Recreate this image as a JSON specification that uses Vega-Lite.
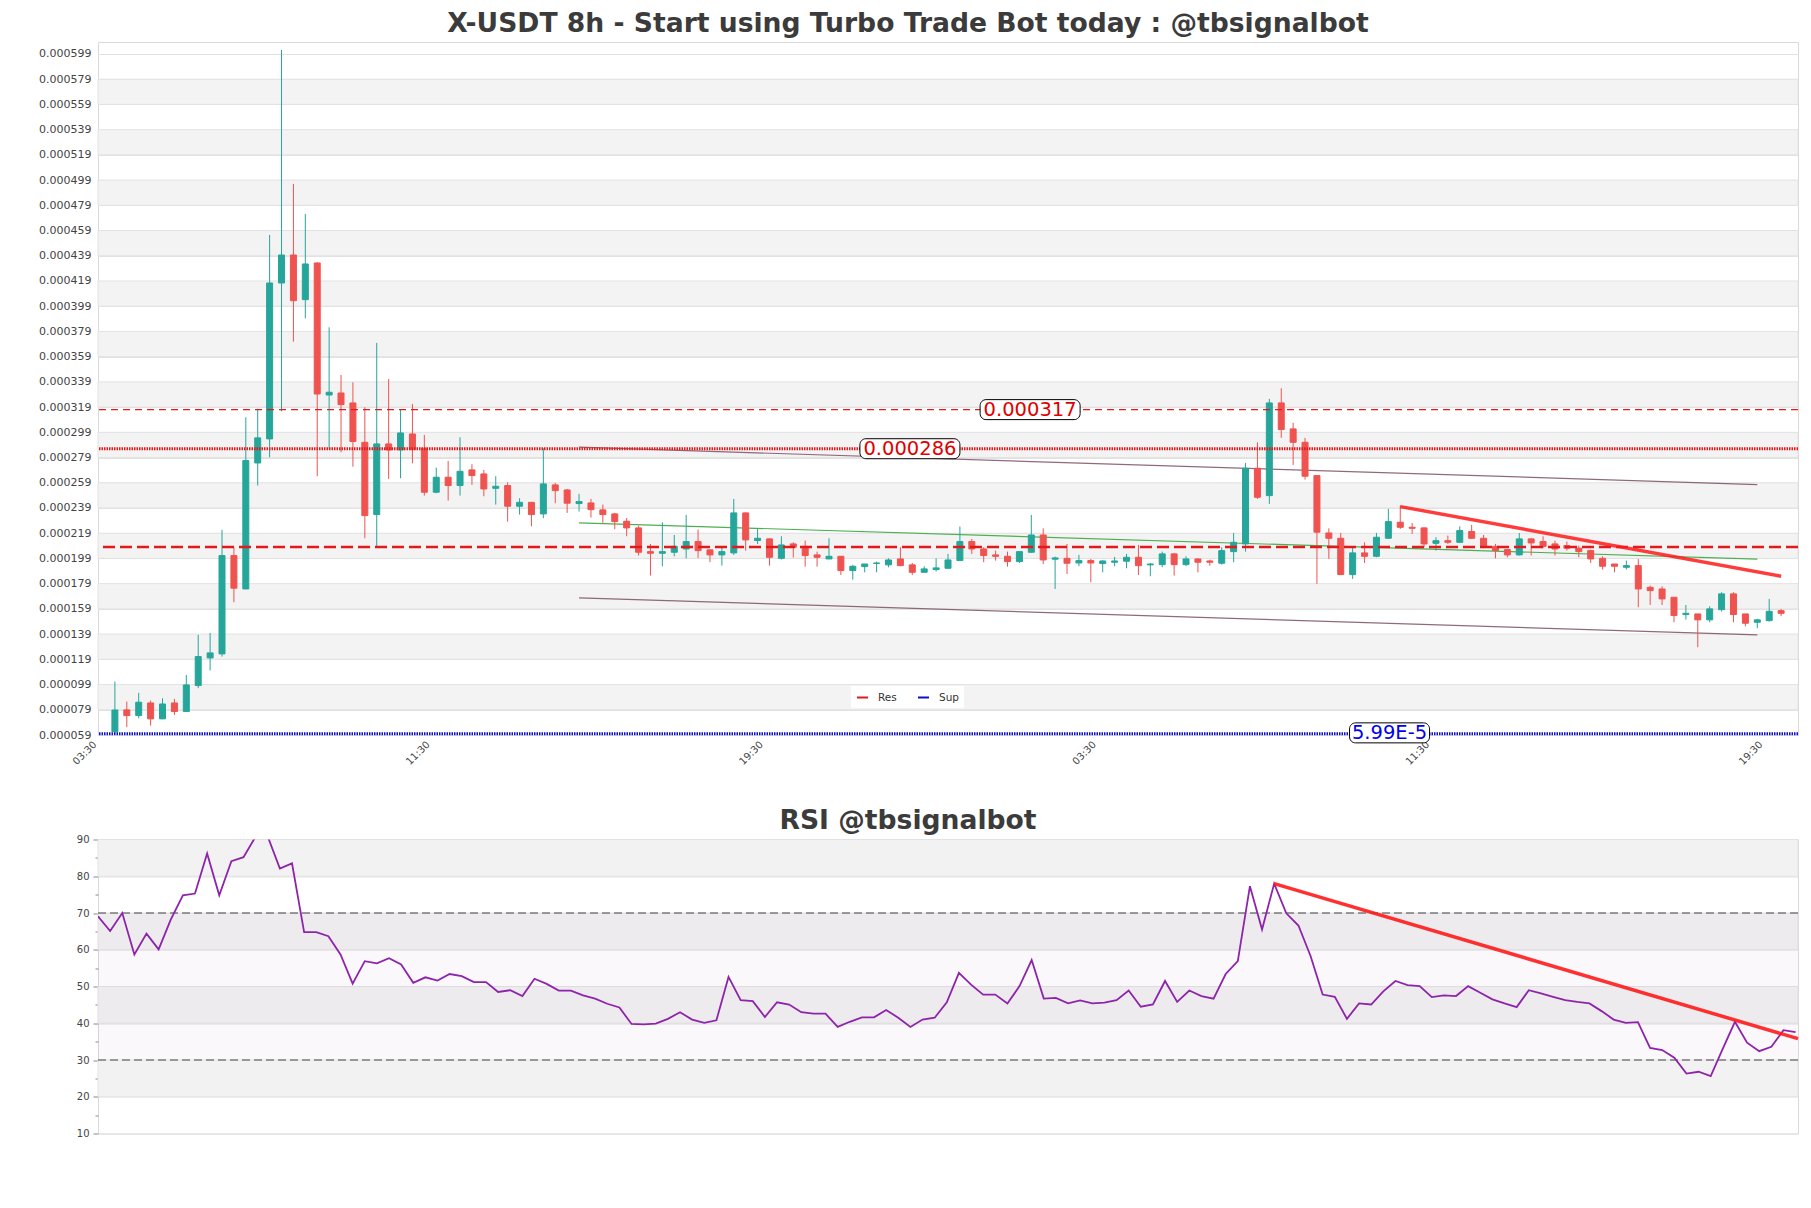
{
  "$schema": "https://vega.github.io/schema/vega-lite/v6.json",
  "background": "white",
  "padding": {"left": 7, "top": 10, "right": 14, "bottom": 10},
  "autosize": {"type": "pad"},
  "spacing": 30.5,
  "config": {
    "font": "DejaVu Sans",
    "view": {"stroke": "#d9d9d9", "strokeWidth": 1},
    "title": {"fontSize": 26.6, "fontWeight": "bold", "color": "#3b3b3b", "font": "DejaVu Sans"},
    "axis": {"labelFont": "DejaVu Sans", "labelColor": "#444444", "labelOverlap": false},
    "legend": {"labelFont": "DejaVu Sans"}
  },
  "resolve": {"scale": {"x": "independent", "y": "independent"}},
  "datasets": {
    "candles": [
      {"i":0,"o":61.6e-6,"h":101.3e-6,"l":59.9e-6,"c":78.8e-6,"rsi":69.1},
      {"i":1,"o":78.9e-6,"h":85.5e-6,"l":65.2e-6,"c":74.4e-6,"rsi":65.1},
      {"i":2,"o":74.4e-6,"h":92.4e-6,"l":72.3e-6,"c":85.0e-6,"rsi":70.0},
      {"i":3,"o":84.4e-6,"h":86.3e-6,"l":66.5e-6,"c":71.8e-6,"rsi":58.7},
      {"i":4,"o":71.8e-6,"h":88.1e-6,"l":71.8e-6,"c":83.6e-6,"rsi":64.4},
      {"i":5,"o":84.4e-6,"h":87.6e-6,"l":74.9e-6,"c":77.6e-6,"rsi":60.1},
      {"i":6,"o":77.6e-6,"h":106.6e-6,"l":77.6e-6,"c":98.7e-6,"rsi":68.2},
      {"i":7,"o":98.2e-6,"h":138.4e-6,"l":96.1e-6,"c":121.2e-6,"rsi":74.8},
      {"i":8,"o":120.1e-6,"h":139.9e-6,"l":110.1e-6,"c":124.1e-6,"rsi":75.3},
      {"i":9,"o":123.3e-6,"h":221.6e-6,"l":121.2e-6,"c":201.3e-6,"rsi":86.2},
      {"i":10,"o":201.3e-6,"h":207.9e-6,"l":164.3e-6,"c":175.4e-6,"rsi":74.8},
      {"i":11,"o":174.8e-6,"h":310.9e-6,"l":174.8e-6,"c":276.6e-6,"rsi":84.1},
      {"i":12,"o":274.7e-6,"h":317.6e-6,"l":256.8e-6,"c":294.6e-6,"rsi":85.2},
      {"i":13,"o":293.8e-6,"h":455.5e-6,"l":279.2e-6,"c":417.4e-6,"rsi":90.8},
      {"i":14,"o":417.4e-6,"h":602.2e-6,"l":315.7e-6,"c":439.6e-6,"rsi":90.8},
      {"i":15,"o":439.6e-6,"h":496.0e-6,"l":370.9e-6,"c":403.4e-6,"rsi":82.1},
      {"i":16,"o":404.2e-6,"h":472.2e-6,"l":389.4e-6,"c":432.5e-6,"rsi":83.5},
      {"i":17,"o":433.3e-6,"h":433.8e-6,"l":264.2e-6,"c":329.4e-6,"rsi":64.8},
      {"i":18,"o":328.6e-6,"h":382.3e-6,"l":285.3e-6,"c":330.8e-6,"rsi":64.8},
      {"i":19,"o":330.2e-6,"h":344.5e-6,"l":283.2e-6,"c":321.0e-6,"rsi":63.7},
      {"i":20,"o":322.3e-6,"h":338.7e-6,"l":271.8e-6,"c":291.7e-6,"rsi":58.7},
      {"i":21,"o":291.1e-6,"h":318.9e-6,"l":215.0e-6,"c":233.0e-6,"rsi":50.8},
      {"i":22,"o":233.8e-6,"h":369.9e-6,"l":208.7e-6,"c":289.8e-6,"rsi":56.9},
      {"i":23,"o":289.8e-6,"h":341.3e-6,"l":262.1e-6,"c":285.0e-6,"rsi":56.3},
      {"i":24,"o":285.0e-6,"h":317.0e-6,"l":262.6e-6,"c":298.5e-6,"rsi":57.7},
      {"i":25,"o":297.7e-6,"h":321.5e-6,"l":274.5e-6,"c":285.3e-6,"rsi":56.0},
      {"i":26,"o":286.4e-6,"h":296.9e-6,"l":248.8e-6,"c":251.5e-6,"rsi":51.0},
      {"i":27,"o":251.5e-6,"h":271.0e-6,"l":250.7e-6,"c":263.4e-6,"rsi":52.5},
      {"i":28,"o":263.4e-6,"h":276.3e-6,"l":244.9e-6,"c":256.8e-6,"rsi":51.6},
      {"i":29,"o":256.8e-6,"h":295.1e-6,"l":248.8e-6,"c":268.1e-6,"rsi":53.4},
      {"i":30,"o":269.2e-6,"h":273.7e-6,"l":257.3e-6,"c":264.7e-6,"rsi":52.8},
      {"i":31,"o":266.0e-6,"h":269.2e-6,"l":248.3e-6,"c":254.1e-6,"rsi":51.2},
      {"i":32,"o":254.6e-6,"h":264.2e-6,"l":241.7e-6,"c":256.2e-6,"rsi":51.2},
      {"i":33,"o":256.8e-6,"h":259.4e-6,"l":228.2e-6,"c":240.4e-6,"rsi":48.5},
      {"i":34,"o":240.4e-6,"h":246.7e-6,"l":233.8e-6,"c":243.5e-6,"rsi":49.0},
      {"i":35,"o":243.5e-6,"h":243.8e-6,"l":224.5e-6,"c":233.8e-6,"rsi":47.4},
      {"i":36,"o":234.3e-6,"h":286.4e-6,"l":230.9e-6,"c":258.1e-6,"rsi":52.1},
      {"i":37,"o":257.3e-6,"h":258.9e-6,"l":242.8e-6,"c":252.8e-6,"rsi":50.7},
      {"i":38,"o":253.3e-6,"h":254.1e-6,"l":235.1e-6,"c":242.8e-6,"rsi":48.9},
      {"i":39,"o":242.5e-6,"h":250.2e-6,"l":236.2e-6,"c":244.1e-6,"rsi":48.9},
      {"i":40,"o":243.0e-6,"h":246.2e-6,"l":231.4e-6,"c":237.7e-6,"rsi":47.6},
      {"i":41,"o":237.5e-6,"h":241.7e-6,"l":227.2e-6,"c":233.8e-6,"rsi":46.7},
      {"i":42,"o":234.3e-6,"h":235.1e-6,"l":222.1e-6,"c":228.2e-6,"rsi":45.3},
      {"i":43,"o":228.5e-6,"h":231.1e-6,"l":216.6e-6,"c":223.2e-6,"rsi":44.3},
      {"i":44,"o":223.2e-6,"h":225.0e-6,"l":201.3e-6,"c":203.9e-6,"rsi":39.8},
      {"i":45,"o":204.4e-6,"h":210.5e-6,"l":185.4e-6,"c":203.1e-6,"rsi":39.7},
      {"i":46,"o":203.1e-6,"h":227.7e-6,"l":192.8e-6,"c":204.4e-6,"rsi":39.9},
      {"i":47,"o":203.9e-6,"h":217.6e-6,"l":200.7e-6,"c":208.6e-6,"rsi":41.2},
      {"i":48,"o":206.5e-6,"h":233.5e-6,"l":199.1e-6,"c":212.4e-6,"rsi":43.0},
      {"i":49,"o":212.4e-6,"h":221.9e-6,"l":199.4e-6,"c":205.2e-6,"rsi":41.0},
      {"i":50,"o":205.8e-6,"h":206.0e-6,"l":196.0e-6,"c":201.8e-6,"rsi":40.1},
      {"i":51,"o":201.8e-6,"h":208.6e-6,"l":193.3e-6,"c":204.4e-6,"rsi":40.8},
      {"i":52,"o":203.4e-6,"h":246.2e-6,"l":201.8e-6,"c":235.1e-6,"rsi":52.6},
      {"i":53,"o":235.1e-6,"h":235.5e-6,"l":205.2e-6,"c":213.7e-6,"rsi":46.3},
      {"i":54,"o":213.2e-6,"h":222.4e-6,"l":210.5e-6,"c":215.0e-6,"rsi":46.0},
      {"i":55,"o":214.5e-6,"h":215.0e-6,"l":193.3e-6,"c":199.9e-6,"rsi":41.7},
      {"i":56,"o":199.1e-6,"h":216.6e-6,"l":198.1e-6,"c":209.7e-6,"rsi":45.7},
      {"i":57,"o":210.5e-6,"h":211.8e-6,"l":199.7e-6,"c":207.9e-6,"rsi":45.1},
      {"i":58,"o":208.6e-6,"h":213.2e-6,"l":192.5e-6,"c":201.3e-6,"rsi":43.0},
      {"i":59,"o":201.8e-6,"h":204.4e-6,"l":192.5e-6,"c":199.9e-6,"rsi":42.6},
      {"i":60,"o":198.6e-6,"h":215.0e-6,"l":198.6e-6,"c":200.7e-6,"rsi":42.6},
      {"i":61,"o":200.7e-6,"h":200.7e-6,"l":185.9e-6,"c":189.4e-6,"rsi":39.0},
      {"i":62,"o":189.4e-6,"h":193.9e-6,"l":182.2e-6,"c":192.8e-6,"rsi":40.4},
      {"i":63,"o":192.5e-6,"h":194.6e-6,"l":188.0e-6,"c":194.6e-6,"rsi":41.6},
      {"i":64,"o":195.0e-6,"h":196.5e-6,"l":188.0e-6,"c":195.4e-6,"rsi":41.6},
      {"i":65,"o":193.9e-6,"h":199.1e-6,"l":192.0e-6,"c":197.8e-6,"rsi":43.6},
      {"i":66,"o":198.6e-6,"h":207.9e-6,"l":192.8e-6,"c":193.3e-6,"rsi":41.5},
      {"i":67,"o":193.9e-6,"h":195.4e-6,"l":185.9e-6,"c":188.0e-6,"rsi":39.0},
      {"i":68,"o":188.0e-6,"h":192.8e-6,"l":188.0e-6,"c":190.7e-6,"rsi":41.0},
      {"i":69,"o":190.2e-6,"h":199.1e-6,"l":188.6e-6,"c":191.5e-6,"rsi":41.5},
      {"i":70,"o":191.2e-6,"h":202.6e-6,"l":190.7e-6,"c":197.8e-6,"rsi":45.7},
      {"i":71,"o":197.3e-6,"h":224.3e-6,"l":197.3e-6,"c":212.4e-6,"rsi":53.7},
      {"i":72,"o":212.4e-6,"h":214.5e-6,"l":202.6e-6,"c":206.5e-6,"rsi":50.5},
      {"i":73,"o":206.5e-6,"h":207.9e-6,"l":196.0e-6,"c":201.3e-6,"rsi":47.8},
      {"i":74,"o":201.8e-6,"h":205.2e-6,"l":197.3e-6,"c":200.7e-6,"rsi":47.8},
      {"i":75,"o":200.7e-6,"h":204.4e-6,"l":192.5e-6,"c":196.5e-6,"rsi":45.4},
      {"i":76,"o":196.5e-6,"h":204.4e-6,"l":195.4e-6,"c":204.4e-6,"rsi":50.1},
      {"i":77,"o":203.9e-6,"h":233.5e-6,"l":203.4e-6,"c":217.6e-6,"rsi":57.2},
      {"i":78,"o":217.6e-6,"h":222.9e-6,"l":194.6e-6,"c":197.8e-6,"rsi":46.7},
      {"i":79,"o":198.4e-6,"h":200.5e-6,"l":174.8e-6,"c":199.4e-6,"rsi":46.9},
      {"i":80,"o":199.1e-6,"h":210.5e-6,"l":186.7e-6,"c":195.2e-6,"rsi":45.4},
      {"i":81,"o":195.4e-6,"h":201.8e-6,"l":192.8e-6,"c":197.3e-6,"rsi":46.2},
      {"i":82,"o":197.3e-6,"h":198.6e-6,"l":180.1e-6,"c":195.4e-6,"rsi":45.4},
      {"i":83,"o":194.9e-6,"h":197.5e-6,"l":188.0e-6,"c":197.0e-6,"rsi":45.6},
      {"i":84,"o":196.0e-6,"h":200.2e-6,"l":192.8e-6,"c":197.0e-6,"rsi":46.3},
      {"i":85,"o":196.8e-6,"h":202.6e-6,"l":191.2e-6,"c":199.9e-6,"rsi":48.9},
      {"i":86,"o":199.9e-6,"h":209.7e-6,"l":185.9e-6,"c":193.3e-6,"rsi":44.5},
      {"i":87,"o":193.9e-6,"h":195.4e-6,"l":184.9e-6,"c":194.6e-6,"rsi":45.1},
      {"i":88,"o":194.1e-6,"h":204.4e-6,"l":192.0e-6,"c":202.6e-6,"rsi":51.5},
      {"i":89,"o":202.6e-6,"h":203.4e-6,"l":185.4e-6,"c":194.1e-6,"rsi":45.8},
      {"i":90,"o":194.1e-6,"h":200.7e-6,"l":192.8e-6,"c":198.6e-6,"rsi":48.9},
      {"i":91,"o":198.6e-6,"h":199.1e-6,"l":188.0e-6,"c":196.0e-6,"rsi":47.4},
      {"i":92,"o":197.0e-6,"h":198.1e-6,"l":193.3e-6,"c":196.0e-6,"rsi":46.7},
      {"i":93,"o":195.2e-6,"h":207.9e-6,"l":194.1e-6,"c":205.2e-6,"rsi":53.4},
      {"i":94,"o":204.4e-6,"h":219.2e-6,"l":196.0e-6,"c":211.8e-6,"rsi":56.9},
      {"i":95,"o":210.5e-6,"h":274.7e-6,"l":204.4e-6,"c":270.5e-6,"rsi":77.3},
      {"i":96,"o":270.5e-6,"h":291.1e-6,"l":246.2e-6,"c":247.5e-6,"rsi":65.5},
      {"i":97,"o":248.8e-6,"h":325.5e-6,"l":242.2e-6,"c":322.3e-6,"rsi":78.0},
      {"i":98,"o":322.3e-6,"h":333.9e-6,"l":294.6e-6,"c":301.2e-6,"rsi":69.9},
      {"i":99,"o":301.7e-6,"h":306.5e-6,"l":273.1e-6,"c":291.1e-6,"rsi":66.6},
      {"i":100,"o":291.1e-6,"h":294.6e-6,"l":261.5e-6,"c":264.2e-6,"rsi":58.3},
      {"i":101,"o":264.7e-6,"h":264.7e-6,"l":178.8e-6,"c":219.8e-6,"rsi":47.8},
      {"i":102,"o":219.2e-6,"h":222.9e-6,"l":198.6e-6,"c":215.0e-6,"rsi":47.2},
      {"i":103,"o":215.0e-6,"h":219.2e-6,"l":186.2e-6,"c":186.2e-6,"rsi":41.2},
      {"i":104,"o":186.2e-6,"h":207.9e-6,"l":182.8e-6,"c":203.4e-6,"rsi":45.4},
      {"i":105,"o":203.4e-6,"h":211.8e-6,"l":195.4e-6,"c":200.7e-6,"rsi":45.1},
      {"i":106,"o":200.7e-6,"h":219.2e-6,"l":199.9e-6,"c":215.8e-6,"rsi":48.7},
      {"i":107,"o":215.0e-6,"h":238.3e-6,"l":214.5e-6,"c":228.2e-6,"rsi":51.5},
      {"i":108,"o":227.7e-6,"h":240.9e-6,"l":222.4e-6,"c":223.7e-6,"rsi":50.4},
      {"i":109,"o":223.7e-6,"h":227.2e-6,"l":218.4e-6,"c":222.9e-6,"rsi":50.1},
      {"i":110,"o":223.2e-6,"h":223.7e-6,"l":207.9e-6,"c":210.5e-6,"rsi":47.1},
      {"i":111,"o":211.0e-6,"h":215.8e-6,"l":205.2e-6,"c":213.1e-6,"rsi":47.6},
      {"i":112,"o":213.1e-6,"h":217.1e-6,"l":210.5e-6,"c":211.8e-6,"rsi":47.4},
      {"i":113,"o":211.8e-6,"h":224.5e-6,"l":211.3e-6,"c":221.1e-6,"rsi":50.1},
      {"i":114,"o":220.3e-6,"h":225.6e-6,"l":214.5e-6,"c":215.0e-6,"rsi":48.3},
      {"i":115,"o":215.0e-6,"h":217.6e-6,"l":207.1e-6,"c":208.6e-6,"rsi":46.5},
      {"i":116,"o":208.6e-6,"h":210.5e-6,"l":199.1e-6,"c":205.2e-6,"rsi":45.4},
      {"i":117,"o":206.0e-6,"h":206.5e-6,"l":199.9e-6,"c":201.8e-6,"rsi":44.4},
      {"i":118,"o":201.8e-6,"h":219.2e-6,"l":201.3e-6,"c":214.5e-6,"rsi":49.0},
      {"i":119,"o":214.5e-6,"h":215.0e-6,"l":201.3e-6,"c":211.3e-6,"rsi":48.1},
      {"i":120,"o":212.4e-6,"h":216.6e-6,"l":207.1e-6,"c":208.6e-6,"rsi":47.2},
      {"i":121,"o":210.5e-6,"h":213.1e-6,"l":201.3e-6,"c":206.5e-6,"rsi":46.3},
      {"i":122,"o":209.2e-6,"h":212.4e-6,"l":205.2e-6,"c":207.1e-6,"rsi":45.8},
      {"i":123,"o":207.1e-6,"h":209.2e-6,"l":199.9e-6,"c":204.4e-6,"rsi":45.4},
      {"i":124,"o":205.2e-6,"h":206.0e-6,"l":195.4e-6,"c":198.6e-6,"rsi":43.3},
      {"i":125,"o":199.1e-6,"h":200.7e-6,"l":190.2e-6,"c":192.8e-6,"rsi":41.0},
      {"i":126,"o":194.6e-6,"h":194.6e-6,"l":188.0e-6,"c":192.8e-6,"rsi":40.1},
      {"i":127,"o":192.0e-6,"h":197.3e-6,"l":190.2e-6,"c":193.3e-6,"rsi":40.3},
      {"i":128,"o":193.3e-6,"h":198.6e-6,"l":160.3e-6,"c":174.8e-6,"rsi":33.3},
      {"i":129,"o":176.1e-6,"h":177.5e-6,"l":162.1e-6,"c":173.5e-6,"rsi":32.7},
      {"i":130,"o":174.8e-6,"h":176.9e-6,"l":162.1e-6,"c":166.9e-6,"rsi":30.6},
      {"i":131,"o":168.2e-6,"h":168.2e-6,"l":148.4e-6,"c":153.7e-6,"rsi":26.3},
      {"i":132,"o":154.5e-6,"h":162.1e-6,"l":150.5e-6,"c":155.5e-6,"rsi":26.8},
      {"i":133,"o":155.0e-6,"h":155.0e-6,"l":128.6e-6,"c":150.3e-6,"rsi":25.6},
      {"i":134,"o":150.3e-6,"h":161.1e-6,"l":148.4e-6,"c":159.0e-6,"rsi":33.1},
      {"i":135,"o":158.4e-6,"h":172.2e-6,"l":156.9e-6,"c":170.9e-6,"rsi":40.4},
      {"i":136,"o":170.9e-6,"h":172.2e-6,"l":148.4e-6,"c":154.5e-6,"rsi":34.7},
      {"i":137,"o":155.0e-6,"h":155.0e-6,"l":145.2e-6,"c":147.6e-6,"rsi":32.4},
      {"i":138,"o":148.4e-6,"h":151.1e-6,"l":143.6e-6,"c":150.3e-6,"rsi":33.6},
      {"i":139,"o":149.7e-6,"h":166.9e-6,"l":148.9e-6,"c":157.1e-6,"rsi":38.1},
      {"i":140,"o":157.6e-6,"h":158.9e-6,"l":153.2e-6,"c":155.5e-6,"rsi":37.6}
    ],
    "bands": [
      {"lo":0.000079,"hi":0.000099},{"lo":0.000119,"hi":0.000139},{"lo":0.000159,"hi":0.000179},
      {"lo":0.000199,"hi":0.000219},{"lo":0.000239,"hi":0.000259},{"lo":0.000279,"hi":0.000299},
      {"lo":0.000319,"hi":0.000339},{"lo":0.000359,"hi":0.000379},{"lo":0.000399,"hi":0.000419},
      {"lo":0.000439,"hi":0.000459},{"lo":0.000479,"hi":0.000499},{"lo":0.000519,"hi":0.000539},
      {"lo":0.000559,"hi":0.000579}
    ],
    "levels": [
      {"level":"R1","kind":"Res","price":0.000317,"label":"0.000317"},
      {"level":"R2","kind":"Res","price":0.000286,"label":"0.000286"},
      {"level":"R3","kind":"Res","price":0.000208,"label":""},
      {"level":"S1","kind":"Sup","price":0.0000599,"label":"5.99E-5"}
    ],
    "trends": [
      {"t":"upper","i":39,"p":287.2e-6},{"t":"upper","i":138,"p":257.6e-6},
      {"t":"lower","i":39,"p":167.7e-6},{"t":"lower","i":138,"p":138.4e-6},
      {"t":"mid","i":39,"p":227.2e-6},{"t":"mid","i":138,"p":198.4e-6},
      {"t":"down","i":108,"p":240.1e-6},{"t":"down","i":140,"p":184.9e-6}
    ],
    "rsibands": [{"lo":80,"hi":90},{"lo":60,"hi":70},{"lo":40,"hi":50},{"lo":20,"hi":30}],
    "rsizone": [{"lo":30,"hi":70}],
    "rsilevels": [{"v":70},{"v":30}],
    "rsitrend": [{"i":97,"v":78.0},{"i":140.2,"v":35.8}]
  },
  "vconcat": [
    {
      "width": 1700,
      "height": 693,
      "title": {"text": "X-USDT 8h - Start using Turbo Trade Bot today : @tbsignalbot", "dx": -40, "offset": 4.4},
      "layer": [
        {
          "data": {"name": "bands"},
          "mark": {"type": "rect", "fill": "#f3f3f3", "stroke": "#e2e2e2", "strokeWidth": 1},
          "encoding": {
            "x": {"value": 0},
            "x2": {"value": "width"},
            "y": {"field": "lo", "type": "quantitative",
                  "scale": {"domain": [0.000059, 0.0006085], "nice": false, "zero": false},
                  "axis": {"title": null, "values": [0.000059,0.000079,0.000099,0.000119,0.000139,0.000159,0.000179,0.000199,0.000219,0.000239,0.000259,0.000279,0.000299,0.000319,0.000339,0.000359,0.000379,0.000399,0.000419,0.000439,0.000459,0.000479,0.000499,0.000519,0.000539,0.000559,0.000579,0.000599],
                           "tickCount": 200,
                           "format": ".6f", "labelFontSize": 11, "ticks": false, "labelPadding": 7, "grid": true, "gridColor": "#e2e2e2", "domain": false, "minExtent": 90, "maxExtent": 90, "labelOverlap": false, "labelFlush": false}},
            "y2": {"field": "hi"}
          }
        },
        {
          "data": {"name": "trends"},
          "transform": [{"filter": "datum.t === 'upper' || datum.t === 'lower'"}],
          "mark": {"type": "line", "color": "#7d4f64", "strokeWidth": 1.2, "opacity": 0.85},
          "encoding": {
            "x": {"field": "i", "type": "quantitative", "scale": {"domain": [-1, 141], "nice": false, "zero": false}},
            "y": {"field": "p", "type": "quantitative", "scale": {"domain": [0.000059, 0.0006085], "nice": false, "zero": false}},
            "detail": {"field": "t"}
          }
        },
        {
          "data": {"name": "trends"},
          "transform": [{"filter": "datum.t === 'mid'"}],
          "mark": {"type": "line", "color": "#4caf50", "strokeWidth": 1.2},
          "encoding": {
            "x": {"field": "i", "type": "quantitative", "scale": {"domain": [-1, 141], "nice": false, "zero": false}},
            "y": {"field": "p", "type": "quantitative", "scale": {"domain": [0.000059, 0.0006085], "nice": false, "zero": false}}
          }
        },
        {
          "data": {"name": "candles"},
          "mark": {"type": "rule", "strokeWidth": 1},
          "encoding": {
            "x": {"field": "i", "type": "quantitative", "scale": {"domain": [-1, 141], "nice": false, "zero": false},
                  "axis": {"title": null, "values": [-1, 27, 55, 83, 111, 139], "tickCount": 100,
                           "labelExpr": "['03:30','11:30','19:30'][round((datum.value + 1) / 28) % 3]",
                           "labelAngle": -45, "labelAlign": "right", "labelBaseline": "top", "labelOffset": -12, "labelFontSize": 10, "ticks": false, "grid": false, "domain": false,
                           "labelPadding": 4, "labelFlush": false, "labelOverlap": false, "labelBound": false,
                           "minExtent": 40, "maxExtent": 40}},
            "y": {"field": "l", "type": "quantitative", "scale": {"domain": [0.000059, 0.0006085], "nice": false, "zero": false}},
            "y2": {"field": "h"},
            "color": {"condition": {"test": "datum.c >= datum.o", "value": "#26a69a"}, "value": "#ef5350"}
          }
        },
        {
          "data": {"name": "candles"},
          "mark": {"type": "bar", "size": 6, "strokeWidth": 1},
          "encoding": {
            "x": {"field": "i", "type": "quantitative", "scale": {"domain": [-1, 141], "nice": false, "zero": false}},
            "y": {"field": "o", "type": "quantitative", "scale": {"domain": [0.000059, 0.0006085], "nice": false, "zero": false}},
            "y2": {"field": "c"},
            "color": {"condition": {"test": "datum.c >= datum.o", "value": "#26a69a"}, "value": "#ef5350"},
            "stroke": {"condition": {"test": "datum.c >= datum.o", "value": "#26a69a"}, "value": "#ef5350"}
          }
        },
        {
          "data": {"name": "levels"},
          "transform": [{"filter": "datum.level === 'R1'"}],
          "mark": {"type": "rule", "strokeWidth": 1.3, "strokeDash": [7, 5]},
          "encoding": {
            "y": {"field": "price", "type": "quantitative", "scale": {"domain": [0.000059, 0.0006085], "nice": false, "zero": false}},
            "color": {"field": "kind", "type": "nominal",
                      "scale": {"domain": ["Res", "Sup"], "range": ["#e31a1c", "#1010c8"]},
                      "legend": {"title": null, "orient": "none", "legendX": 753, "legendY": 644, "direction": "horizontal",
                                 "fillColor": "white", "padding": 5, "symbolType": "stroke", "symbolSize": 121,
                                 "symbolStrokeWidth": 2, "symbolDash": [1, 0], "labelFontSize": 10.5, "labelColor": "#333333",
                                 "columnPadding": 17, "labelOffset": 9}}
          }
        },
        {
          "data": {"name": "levels"},
          "transform": [{"filter": "datum.level === 'R2'"}],
          "mark": {"type": "rule", "strokeWidth": 3, "strokeDash": [1.5, 1]},
          "encoding": {
            "y": {"field": "price", "type": "quantitative", "scale": {"domain": [0.000059, 0.0006085], "nice": false, "zero": false}},
            "color": {"field": "kind", "type": "nominal", "scale": {"domain": ["Res", "Sup"], "range": ["#e31a1c", "#1010c8"]}}
          }
        },
        {
          "data": {"name": "levels"},
          "transform": [{"filter": "datum.level === 'R3'"}],
          "mark": {"type": "rule", "strokeWidth": 2.5, "strokeDash": [12, 5]},
          "encoding": {
            "y": {"field": "price", "type": "quantitative", "scale": {"domain": [0.000059, 0.0006085], "nice": false, "zero": false}},
            "color": {"field": "kind", "type": "nominal", "scale": {"domain": ["Res", "Sup"], "range": ["#e31a1c", "#1010c8"]}}
          }
        },
        {
          "data": {"name": "levels"},
          "transform": [{"filter": "datum.level === 'S1'"}],
          "mark": {"type": "rule", "strokeWidth": 3, "strokeDash": [1.5, 1]},
          "encoding": {
            "y": {"field": "price", "type": "quantitative", "scale": {"domain": [0.000059, 0.0006085], "nice": false, "zero": false}},
            "color": {"field": "kind", "type": "nominal", "scale": {"domain": ["Res", "Sup"], "range": ["#e31a1c", "#1010c8"]}}
          }
        },
        {
          "data": {"name": "trends"},
          "transform": [{"filter": "datum.t === 'down'"}],
          "mark": {"type": "line", "color": "#ff1a1a", "strokeWidth": 3.5, "opacity": 0.85},
          "encoding": {
            "x": {"field": "i", "type": "quantitative", "scale": {"domain": [-1, 141], "nice": false, "zero": false}},
            "y": {"field": "p", "type": "quantitative", "scale": {"domain": [0.000059, 0.0006085], "nice": false, "zero": false}}
          }
        },
        {
          "data": {"name": "levels"},
          "transform": [{"filter": "datum.level === 'R1'"}],
          "mark": {"type": "rect", "fill": "white", "stroke": "black", "strokeWidth": 1, "cornerRadius": 6,
                   "xOffset": -50, "x2Offset": 50, "yOffset": -10, "y2Offset": 10},
          "encoding": {
            "x": {"datum": 76.9, "type": "quantitative"}, "x2": {"datum": 76.9},
            "y": {"field": "price", "type": "quantitative"}, "y2": {"field": "price"}
          }
        },
        {
          "data": {"name": "levels"},
          "transform": [{"filter": "datum.level === 'R1'"}],
          "mark": {"type": "text", "fontSize": 19.5, "color": "#e00000"},
          "encoding": {
            "x": {"datum": 76.9, "type": "quantitative"},
            "y": {"field": "price", "type": "quantitative"},
            "text": {"field": "label"}
          }
        },
        {
          "data": {"name": "levels"},
          "transform": [{"filter": "datum.level === 'R2'"}],
          "mark": {"type": "rect", "fill": "white", "stroke": "black", "strokeWidth": 1, "cornerRadius": 6,
                   "xOffset": -50, "x2Offset": 50, "yOffset": -10, "y2Offset": 10},
          "encoding": {
            "x": {"datum": 66.8, "type": "quantitative"}, "x2": {"datum": 66.8},
            "y": {"field": "price", "type": "quantitative"}, "y2": {"field": "price"}
          }
        },
        {
          "data": {"name": "levels"},
          "transform": [{"filter": "datum.level === 'R2'"}],
          "mark": {"type": "text", "fontSize": 19.5, "color": "#e00000"},
          "encoding": {
            "x": {"datum": 66.8, "type": "quantitative"},
            "y": {"field": "price", "type": "quantitative"},
            "text": {"field": "label"}
          }
        },
        {
          "data": {"name": "levels"},
          "transform": [{"filter": "datum.level === 'S1'"}],
          "mark": {"type": "rect", "fill": "white", "stroke": "black", "strokeWidth": 1, "cornerRadius": 6,
                   "xOffset": -40, "x2Offset": 40, "yOffset": -11, "y2Offset": 9},
          "encoding": {
            "x": {"datum": 107.1, "type": "quantitative"}, "x2": {"datum": 107.1},
            "y": {"field": "price", "type": "quantitative"}, "y2": {"field": "price"}
          }
        },
        {
          "data": {"name": "levels"},
          "transform": [{"filter": "datum.level === 'S1'"}],
          "mark": {"type": "text", "fontSize": 19.5, "color": "#0000ee", "dy": -1},
          "encoding": {
            "x": {"datum": 107.1, "type": "quantitative"},
            "y": {"field": "price", "type": "quantitative"},
            "text": {"field": "label"}
          }
        }
      ]
    },
    {
      "width": 1700,
      "height": 294,
      "title": {"text": "RSI @tbsignalbot", "dx": -40, "offset": 0.4},
      "layer": [
        {
          "data": {"name": "rsibands"},
          "mark": {"type": "rect", "fill": "#f2f2f2", "stroke": "#e2e2e2", "strokeWidth": 1},
          "encoding": {
            "x": {"value": 0},
            "x2": {"value": "width"},
            "y": {"field": "lo", "type": "quantitative", "scale": {"domain": [10, 90], "nice": false, "zero": false},
                  "axis": {"title": null, "values": [10,15,20,25,30,35,40,45,50,55,60,65,70,75,80,85,90],
                           "tickCount": 200, "format": "d",
                           "labelExpr": "datum.value % 10 === 0 ? datum.label : ''",
                           "tickSize": {"condition": {"test": "datum.value % 10 === 0", "value": 5}, "value": 3},
                           "tickColor": "#888888", "labelFontSize": 10, "labelPadding": 4,
                           "grid": true, "gridColor": "#e2e2e2",
                           "gridOpacity": {"condition": {"test": "datum.value % 10 === 0", "value": 1}, "value": 0},
                           "domain": false, "minExtent": 90, "maxExtent": 90, "labelOverlap": false, "labelFlush": false}},
            "y2": {"field": "hi"}
          }
        },
        {
          "data": {"name": "rsizone"},
          "mark": {"type": "rect", "fill": "#9c6fb8", "opacity": 0.05},
          "encoding": {
            "x": {"value": 0},
            "x2": {"value": "width"},
            "y": {"field": "lo", "type": "quantitative", "scale": {"domain": [10, 90], "nice": false, "zero": false}},
            "y2": {"field": "hi"}
          }
        },
        {
          "data": {"name": "rsilevels"},
          "mark": {"type": "rule", "color": "#444444", "strokeWidth": 1.2, "strokeDash": [8, 4]},
          "encoding": {
            "y": {"field": "v", "type": "quantitative", "scale": {"domain": [10, 90], "nice": false, "zero": false}}
          }
        },
        {
          "data": {"name": "candles"},
          "mark": {"type": "line", "color": "#8e24aa", "strokeWidth": 1.8, "clip": true},
          "encoding": {
            "x": {"field": "i", "type": "quantitative", "scale": {"domain": [0, 140.2], "nice": false, "zero": false}, "axis": null},
            "y": {"field": "rsi", "type": "quantitative", "scale": {"domain": [10, 90], "nice": false, "zero": false}}
          }
        },
        {
          "data": {"name": "rsitrend"},
          "mark": {"type": "line", "color": "#ff1a1a", "strokeWidth": 3.5, "opacity": 0.9},
          "encoding": {
            "x": {"field": "i", "type": "quantitative", "scale": {"domain": [0, 140.2], "nice": false, "zero": false}},
            "y": {"field": "v", "type": "quantitative", "scale": {"domain": [10, 90], "nice": false, "zero": false}}
          }
        }
      ]
    }
  ]
}
